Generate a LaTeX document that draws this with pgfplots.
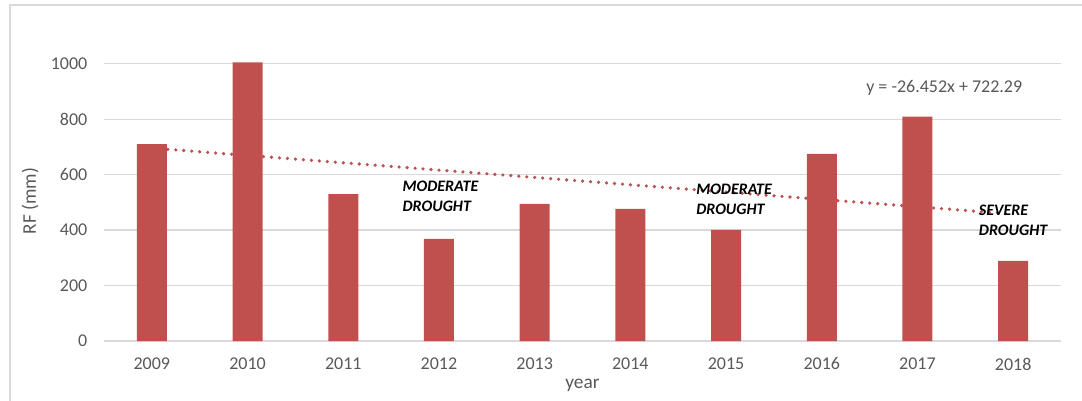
\documentclass[border=0pt]{standalone}
\usepackage{pgfplots}
\pgfplotsset{compat=1.18}
\usepackage{fontspec}
\setmainfont{Carlito}
\definecolor{barred}{HTML}{C0504D}
\definecolor{gridgray}{HTML}{D9D9D9}
\definecolor{txtgray}{HTML}{595959}
\begin{document}
\begin{tikzpicture}
\useasboundingbox (0,0) rectangle (811.5pt,300pt);
\draw[gridgray, line width=1.2pt] (7.5pt,-20pt) -- (7.5pt,296.25pt) -- (830pt,296.25pt);
\begin{axis}[
  at={(78pt,44.25pt)}, anchor=south west,
  scale only axis, width=717.75pt, height=210pt,
  xmin=0.5, xmax=10.5, ymin=0, ymax=1010,
  xtick={1,...,10},
  xticklabels={2009,2010,2011,2012,2013,2014,2015,2016,2017,2018},
  ytick={0,200,400,600,800,1000},
  ymajorgrids, grid style={gridgray, line width=1pt},
  axis line style={draw=none},
  major tick length=0pt,
  tick label style={font=\fontsize{13.5}{16}\selectfont, text=txtgray},
  yticklabel style={xshift=-9pt},
  xticklabel style={yshift=-9pt},
  /pgf/number format/assume math mode=true,
  /pgf/number format/1000 sep={},
  xlabel={year}, ylabel={RF (mm)},
  label style={font=\fontsize{14.5}{17}\selectfont, text=txtgray},
  xlabel style={at={(axis description cs:0.5,0)}, anchor=center, yshift=-33pt},
  ylabel style={at={(axis description cs:-0.0773,0.5)}, anchor=center},
  clip=false,
]
\addplot[ybar, bar width=22.5pt, fill=barred, draw=none] coordinates {
 (1,710) (2,1005) (3,530) (4,368) (5,495) (6,477) (7,401) (8,675) (9,809) (10,289)
};
\addplot[barred, line width=2.7pt, line cap=round, dash pattern=on 0pt off 6pt] coordinates {
 (1,695.838) (10,457.77)
};
\node[font=\fontsize{13.5}{16}\selectfont, text=txtgray] at (axis cs:9.28,913) {y = -26.452x + 722.29};
\node[font=\fontsize{12}{15}\selectfont\bfseries\itshape, anchor=north west, align=left, inner sep=0pt] at (axis cs:3.618,578) {MODERATE\\DROUGHT};
\node[font=\fontsize{12}{15}\selectfont\bfseries\itshape, anchor=north west, align=left, inner sep=0pt] at (axis cs:6.686,567) {MODERATE\\DROUGHT};
\node[font=\fontsize{12}{15}\selectfont\bfseries\itshape, anchor=north west, align=left, inner sep=0pt] at (axis cs:9.64,492) {SEVERE\\DROUGHT};
\end{axis}
\end{tikzpicture}
\end{document}
